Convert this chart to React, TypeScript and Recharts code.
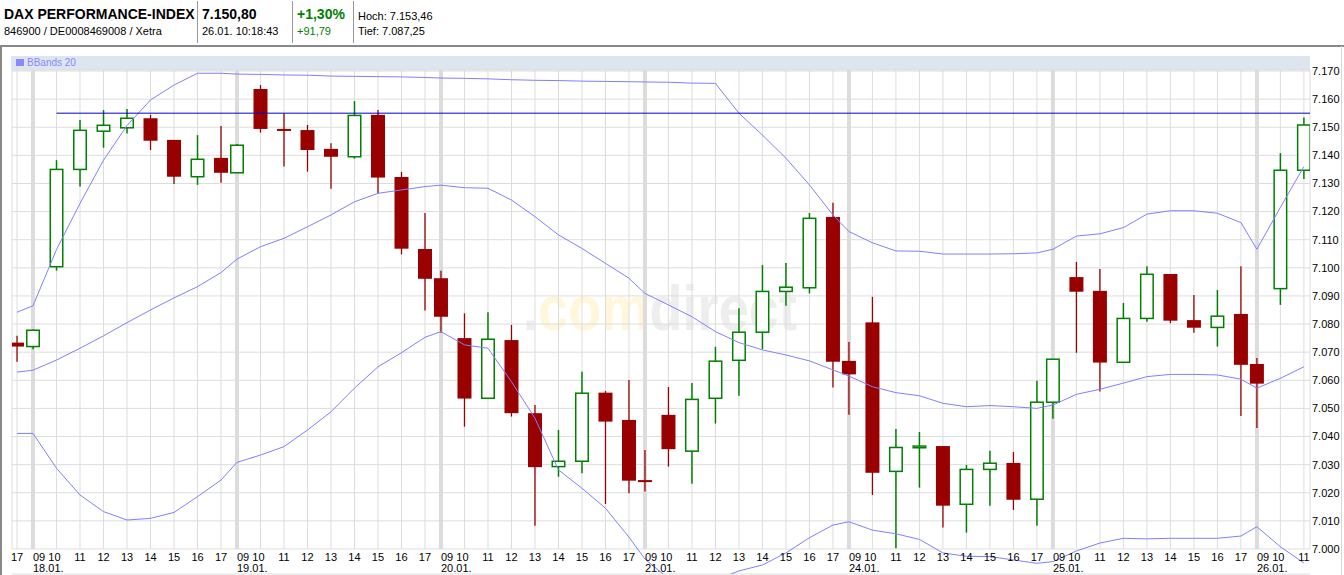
import React from 'react';
import { ComposedChart, Bar, Line, XAxis, YAxis, CartesianGrid, ReferenceLine } from 'recharts';

const FONT = '"Liberation Sans", Arial, sans-serif';

// trading days shown and the hourly bars of each one
const dates = ['17.01.', '18.01.', '19.01.', '20.01.', '21.01.', '24.01.', '25.01.', '26.01.'];
const fullDay = [9, 10, 11, 12, 13, 14, 15, 16, 17];
const sessionHours = [[17], fullDay, fullDay, fullDay, fullDay, fullDay, fullDay, [9, 10, 11]];
// axis distance between two 09 bars of consecutive days (8 hours + overnight gap)
const DAY_SPAN = 8.68;

const open = [
  7073.4, 7072.0, 7100.4, 7135.0, 7148.6, 7149.8, 7153.2, 7145.5, 7132.4, 7139.1,
  7133.8, 7163.6, 7149.4, 7149.0, 7142.3, 7139.5, 7154.4, 7132.3, 7106.7, 7096.3,
  7075.0, 7053.6, 7074.3, 7048.3, 7029.3, 7031.2, 7055.6, 7045.9, 7024.5, 7047.7,
  7034.8, 7053.6, 7067.1, 7077.1, 7091.6, 7092.9, 7118.1, 7066.9, 7080.6, 7027.6,
  7036.0, 7036.6, 7015.9, 7028.3, 7030.6, 7017.7, 7052.2, 7096.7, 7091.8, 7066.4,
  7082.0, 7097.8, 7081.4, 7078.8, 7083.6, 7065.8, 7092.6, 7134.7,
];
const high = [
  7075.8, 7078.1, 7138.3, 7152.6, 7156.1, 7156.5, 7154.4, 7145.5, 7147.2, 7150.4,
  7144.0, 7165.0, 7155.0, 7150.8, 7144.3, 7159.3, 7156.1, 7134.1, 7119.5, 7099.0,
  7083.8, 7084.2, 7079.7, 7051.2, 7042.3, 7063.0, 7056.2, 7060.1, 7035.2, 7057.6,
  7059.0, 7071.9, 7085.6, 7101.0, 7101.7, 7119.5, 7123.1, 7073.6, 7089.7, 7042.7,
  7041.6, 7036.6, 7029.9, 7034.9, 7034.5, 7059.8, 7067.5, 7102.1, 7099.6, 7087.5,
  7100.6, 7097.8, 7090.3, 7092.1, 7100.6, 7067.9, 7140.8, 7153.5,
];
const low = [
  7066.6, 7071.0, 7099.0, 7128.9, 7142.7, 7147.8, 7141.9, 7129.8, 7129.5, 7130.3,
  7133.8, 7148.1, 7136.0, 7134.2, 7128.1, 7138.8, 7126.5, 7104.8, 7084.8, 7076.9,
  7043.5, 7053.6, 7047.1, 7008.3, 7025.7, 7026.9, 7016.0, 7019.8, 7020.4, 7029.3,
  7023.2, 7044.6, 7054.5, 7071.1, 7086.5, 7090.9, 7057.4, 7047.7, 7019.2, 7000.3,
  7021.8, 7007.6, 7005.8, 7015.4, 7013.9, 7008.3, 7046.3, 7069.8, 7056.0, 7066.4,
  7080.8, 7080.3, 7076.9, 7072.0, 7047.3, 7043.0, 7086.8, 7131.6,
];
const close = [
  7072.0, 7077.8, 7135.0, 7148.9, 7150.7, 7153.2, 7145.2, 7132.4, 7138.6, 7133.8,
  7143.6, 7149.4, 7148.7, 7141.9, 7139.5, 7154.2, 7132.1, 7106.8, 7096.1, 7082.6,
  7053.5, 7074.6, 7048.3, 7029.1, 7031.2, 7055.4, 7045.3, 7024.3, 7023.8, 7035.5,
  7053.2, 7066.8, 7077.1, 7091.6, 7093.1, 7117.6, 7066.6, 7062.1, 7027.1, 7036.1,
  7036.6, 7015.4, 7028.3, 7030.5, 7017.5, 7052.2, 7067.5, 7091.5, 7066.3, 7082.0,
  7097.7, 7081.2, 7078.7, 7082.8, 7065.5, 7058.8, 7134.7, 7150.8,
];

// Bollinger bands (20) as drawn
const bbUpper = [
  7084.2, 7086.5, 7106.5, 7122.9, 7138.3, 7150.6, 7159.7, 7165.0, 7169.2, 7169.2,
  7168.9, 7168.8, 7168.6, 7168.5, 7168.2, 7168.1, 7168.0, 7167.9, 7167.7, 7167.5,
  7167.4, 7167.2, 7166.9, 7166.7, 7166.6, 7166.4, 7166.3, 7166.2, 7166.1, 7166.0,
  7165.7, 7165.6, 7155.0, 7147.2, 7139.0, 7129.5, 7118.8, 7112.9, 7108.9, 7106.0,
  7105.9, 7104.9, 7104.9, 7104.9, 7105.0, 7105.3, 7106.6, 7111.3, 7112.1, 7114.3,
  7119.1, 7120.3, 7120.3, 7119.4, 7116.1, 7106.6, 7121.5, 7136.0,
];
const bbMiddle = [
  7062.9, 7063.6, 7067.2, 7071.4, 7075.8, 7080.5, 7085.0, 7089.3, 7093.3, 7098.3,
  7103.1, 7107.5, 7110.5, 7114.6, 7118.8, 7123.5, 7126.5, 7127.7, 7128.9, 7129.4,
  7128.5, 7128.3, 7124.1, 7118.2, 7111.7, 7106.9, 7101.6, 7096.3, 7090.9, 7086.8,
  7082.6, 7077.3, 7073.4, 7070.8, 7069.0, 7066.9, 7063.7, 7061.5, 7057.7, 7055.6,
  7054.5, 7051.8, 7050.6, 7051.0, 7050.6, 7050.0, 7051.2, 7055.0, 7056.8, 7059.0,
  7061.3, 7062.1, 7062.1, 7061.9, 7060.4, 7057.2, 7060.7, 7064.8,
];
const bbLower = [
  7041.1, 7041.1, 7028.7, 7019.2, 7013.3, 7010.3, 7010.9, 7013.0, 7018.6, 7024.5,
  7030.8, 7033.4, 7036.4, 7042.3, 7048.8, 7057.2, 7064.8, 7069.8, 7075.3, 7077.3,
  7072.6, 7071.4, 7059.5, 7046.5, 7028.1, 7021.6, 7014.5, 7004.2, 6996.4, 6989.5,
  6987.0, 6988.9, 6992.2, 6994.3, 6998.6, 7004.0, 7008.5, 7009.7, 7006.7, 7005.4,
  7003.4, 6998.6, 6997.4, 6997.3, 6996.1, 6994.9, 6995.5, 6999.3, 7002.1, 7003.8,
  7003.6, 7003.8, 7003.8, 7003.8, 7004.6, 7007.9, 7000.8, 6995.0,
];

const yTicks = [7000, 7010, 7020, 7030, 7040, 7050, 7060, 7070, 7080, 7090, 7100, 7110, 7120, 7130, 7140, 7150, 7160, 7170];
const resistanceLevel = 7155;
const resistanceFrom = 2; // bar index where the line starts

// visible window of the chart
const X_MIN = -0.894;
const X_MAX = 54.34;
const Y_MIN = 6991.1;
const Y_MAX = 7170.36;

type Row = {
  t: number; date: string; hour: number; open: number; high: number; low: number; close: number;
  range: [number, number]; upper: number; middle: number; lower: number;
};

const rows: Row[] = [];
dates.forEach((date, d) => {
  sessionHours[d].forEach((hour) => {
    const i = rows.length;
    rows.push({
      t: +((d - 1) * DAY_SPAN + hour - 9).toFixed(2),
      date, hour,
      open: open[i], high: high[i], low: low[i], close: close[i],
      range: [low[i], high[i]],
      upper: bbUpper[i], middle: bbMiddle[i], lower: bbLower[i],
    });
  });
});

const GREEN = '#008000';
const RED = '#990000';

function Candle(props: any) {
  const { x, y, width, height, payload } = props;
  if (x == null || !payload) return null;
  const top = Math.min(y, y + height);
  const h = Math.abs(height);
  const { open: o, close: c, high: hi, low: lo } = payload as Row;
  const k = hi > lo ? h / (hi - lo) : 0;
  const py = (v: number) => top + (hi - v) * k;
  const cx = x + width / 2;
  const up = c >= o;
  const color = up ? GREEN : RED;
  const bTop = py(Math.max(o, c));
  const bBot = py(Math.min(o, c));
  return (
    <g>
      {payload.hour === 9 && (
        <line x1={cx} x2={cx} y1={py(7000)} y2={py(Y_MAX)} stroke="#dcdcdc" strokeWidth={4} />
      )}
      <line x1={cx} x2={cx} y1={py(hi)} y2={py(lo)} stroke={color} strokeWidth={up ? 1.5 : 1.3} />
      {up ? (
        <rect x={x + 0.75} y={bTop} width={width - 1.5} height={Math.max(bBot - bTop, 0.5)}
          fill="#fff" stroke={color} strokeWidth={1.5} />
      ) : (
        <rect x={x} y={bTop} width={width} height={Math.max(bBot - bTop, 2)} fill={color} />
      )}
    </g>
  );
}

function TimeTick(props: any) {
  const { x, y, payload } = props;
  const row = rows.find((r) => Math.abs(r.t - payload.value) < 1e-6);
  if (!row || row.hour === 10) return null;
  const st = { fontSize: 11, fontFamily: FONT, fill: '#000' };
  if (row.hour === 9) {
    return (
      <g>
        <text x={x} y={y - 13} textAnchor="start" {...st}>09 10</text>
        <text x={x} y={y - 2} textAnchor="start" {...st}>{row.date}</text>
      </g>
    );
  }
  return <text x={x} y={y - 13} textAnchor="middle" {...st}>{String(row.hour)}</text>;
}

const small = { fontFamily: FONT, fontSize: 11, color: '#000', position: 'absolute' as const, whiteSpace: 'nowrap' as const };
const big = { fontFamily: FONT, fontSize: 14, fontWeight: 700, position: 'absolute' as const, whiteSpace: 'nowrap' as const };

export default function App() {
  return (
    <div style={{ position: 'relative', width: 1344, height: 575, background: '#fff', overflow: 'hidden' }}>
      <style>{'body{margin:0}'}</style>
      {/* header */}
      <div style={{ ...big, left: 4, top: 6 }}>DAX PERFORMANCE-INDEX</div>
      <div style={{ ...small, left: 4, top: 25 }}>846900 / DE0008469008 / Xetra</div>
      <div style={{ position: 'absolute', left: 197, top: 1, width: 1, height: 42, background: '#999' }} />
      <div style={{ ...big, left: 202, top: 6 }}>7.150,80</div>
      <div style={{ ...small, left: 202, top: 25 }}>26.01. 10:18:43</div>
      <div style={{ position: 'absolute', left: 292, top: 1, width: 1, height: 42, background: '#999' }} />
      <div style={{ ...big, left: 297, top: 6, color: GREEN }}>+1,30%</div>
      <div style={{ ...small, left: 297, top: 25, color: GREEN }}>+91,79</div>
      <div style={{ position: 'absolute', left: 353, top: 1, width: 1, height: 42, background: '#999' }} />
      <div style={{ ...small, left: 358, top: 10 }}>Hoch: 7.153,46</div>
      <div style={{ ...small, left: 358, top: 25 }}>Tief: 7.087,25</div>
      <div style={{ position: 'absolute', left: 0, top: 45, width: 1344, height: 2, background: '#888' }} />
      <div style={{ position: 'absolute', left: 0, top: 46, width: 2, height: 529, background: '#888' }} />
      <div style={{ position: 'absolute', left: 1341, top: 46, width: 1, height: 529, background: '#d8d8d8' }} />

      {/* indicator legend band */}
      <div style={{ position: 'absolute', left: 11, top: 56, width: 1299, height: 14, background: '#dde5ef' }}>
        <div style={{ position: 'absolute', left: 5, top: 3, width: 8, height: 7, background: '#8888ff' }} />
        <div style={{ position: 'absolute', left: 16, top: 1, fontFamily: FONT, fontSize: 10, color: '#8888ff' }}>BBands 20</div>
      </div>

      {/* watermark */}
      <svg style={{ position: 'absolute', left: 0, top: 0 }} width={1344} height={575}>
        <text transform="translate(523,330) scale(0.86,1)" fontFamily={FONT} fontWeight={700} fontSize={63}>
          <tspan fill="#eeeeee">.</tspan><tspan fill="#fff6dc">com</tspan><tspan fill="#eeeeee">direct</tspan>
        </text>
      </svg>

      <div style={{ position: 'absolute', left: 0, top: 0 }}>
        <ComposedChart width={1344} height={575} data={rows} margin={{ top: 70, right: 0, bottom: 0, left: 12 }}>
          <CartesianGrid stroke="#dddddd" y={70} height={479} />
          <XAxis
            type="number" dataKey="t" domain={[X_MIN, X_MAX]} allowDataOverflow
            ticks={[X_MIN, ...rows.map((r) => r.t), X_MAX]} interval={0}
            tick={(p: any) => <TimeTick {...p} />}
            tickLine={false} axisLine={false} height={1} tickSize={0} tickMargin={0}
          />
          <YAxis
            orientation="right" domain={[Y_MIN, Y_MAX]} allowDataOverflow ticks={yTicks} interval={0}
            tickFormatter={(v: number) => (v / 1000).toFixed(3)}
            tick={{ fontSize: 11, fontFamily: FONT, fill: '#000' }}
            tickLine={false} axisLine={false} width={34} tickSize={0} tickMargin={2}
          />
          <Bar dataKey="range" barSize={14} shape={(p: any) => <Candle {...p} />} isAnimationActive={false} />
          <Line type="linear" dataKey="upper" stroke="#8080ff" strokeWidth={1} dot={false} activeDot={false} isAnimationActive={false} />
          <Line type="linear" dataKey="middle" stroke="#8080ff" strokeWidth={1} dot={false} activeDot={false} isAnimationActive={false} />
          <Line type="linear" dataKey="lower" stroke="#8080ff" strokeWidth={1} dot={false} activeDot={false} isAnimationActive={false} />
          <ReferenceLine
            segment={[{ x: rows[resistanceFrom].t, y: resistanceLevel }, { x: X_MAX, y: resistanceLevel }]}
            stroke="#0000cc" strokeWidth={1} ifOverflow="visible"
          />
        </ComposedChart>
      </div>
    </div>
  );
}
